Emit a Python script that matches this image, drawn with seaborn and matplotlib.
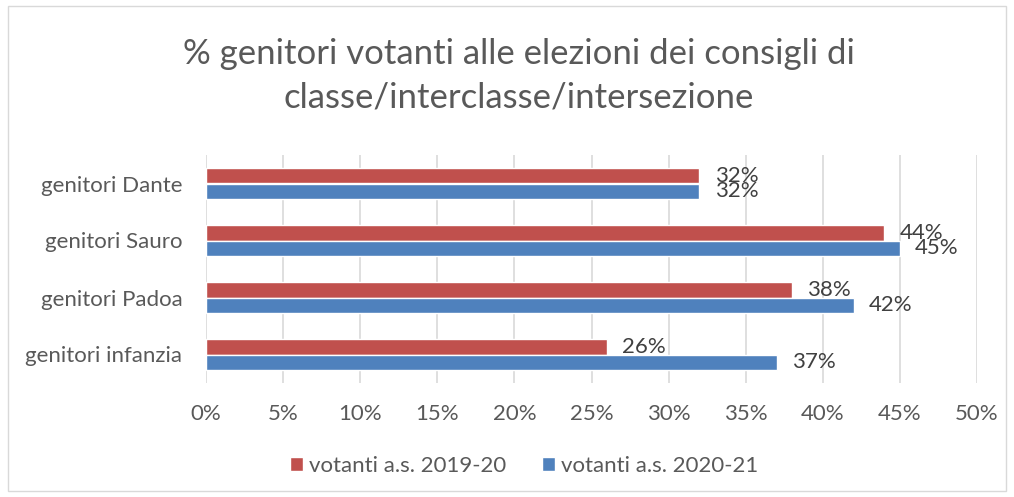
import matplotlib
matplotlib.use("Agg")
import matplotlib.pyplot as plt
import seaborn as sns
import pandas as pd
from matplotlib.patches import Rectangle
from matplotlib.ticker import FuncFormatter

categories = ["genitori Dante", "genitori Sauro", "genitori Padoa", "genitori infanzia"]
series_names = ["votanti a.s. 2019-20", "votanti a.s. 2020-21"]
votanti_2019_20 = [32, 44, 38, 26]
votanti_2020_21 = [32, 45, 42, 37]
colors = ["#C0504D", "#4F81BD"]

df = pd.DataFrame({
    "categoria": categories * 2,
    "serie": [series_names[0]] * 4 + [series_names[1]] * 4,
    "valore": votanti_2019_20 + votanti_2020_21,
})

sns.set_theme(style="white")
plt.rcParams["font.family"] = ["Lato", "DejaVu Sans"]

fig = plt.figure(figsize=(10.14, 4.97), dpi=100)
ax = fig.add_axes([206 / 1014, 1 - 383 / 497, 771 / 1014, 228 / 497])

sns.barplot(data=df, y="categoria", x="valore", hue="serie", order=categories,
            hue_order=series_names, palette=colors, orient="h", width=0.53,
            saturation=1, ax=ax, legend=True)

ax.set_xlim(0, 50)
ax.set_xticks(range(0, 51, 5))
ax.xaxis.set_major_formatter(FuncFormatter(lambda v, p: f"{v:.0f}%"))
ax.grid(axis="x", color="#D9D9D9", linewidth=1.2)
ax.set_axisbelow(True)
for s in ax.spines.values():
    s.set_visible(False)
ax.set_xlabel("")
ax.set_ylabel("")
ax.tick_params(axis="x", length=0, pad=15, labelsize=16, labelcolor="#595959")
ax.tick_params(axis="y", length=0, pad=17, labelsize=16, labelcolor="#595959")

for cont in ax.containers:
    ax.bar_label(cont, labels=[f"{v:.0f}%" for v in cont.datavalues], padding=11,
                 fontsize=16, color="#404040")

handles, labels = ax.get_legend_handles_labels()
ax.legend_.remove()
fig.legend(handles, labels, loc="center", bbox_to_anchor=(524 / 1014, 1 - 466 / 497),
           ncol=2, frameon=False, fontsize=16, labelcolor="#595959",
           handlelength=0.6, handleheight=0.6, handletextpad=0.25, columnspacing=1.6)

fig.suptitle("% genitori votanti alle elezioni dei consigli di\nclasse/interclasse/intersezione",
             x=519 / 1014, y=1 - 38 / 497, va="top", fontsize=25, color="#595959",
             linespacing=1.45)

fig.patches.append(Rectangle((8 / 1014, 6 / 497), 998 / 1014, 485 / 497,
                             transform=fig.transFigure, fill=False,
                             edgecolor="#D9D9D9", linewidth=1))

fig.savefig("out.png", dpi=100)
